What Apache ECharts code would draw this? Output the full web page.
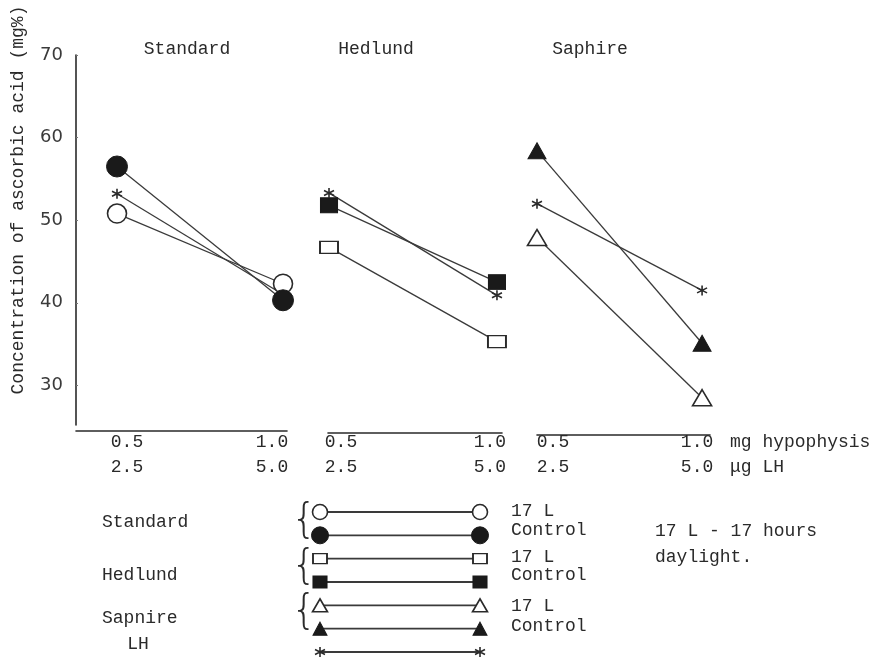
<!DOCTYPE html>
<html><head><meta charset="utf-8">
<script src="https://cdn.jsdelivr.net/npm/echarts@6/dist/echarts.min.js"></script>
<style>html,body{margin:0;padding:0;background:#fff}#c{width:881px;height:663px}</style>
</head><body><div id="c"></div>
<script>
// ---------- data ----------
const groups = ['Standard', 'Hedlund', 'Saphire'];
const doseX = [0.5, 1.0];
const doseHypophysis = ['0.5', '1.0'];
const doseLH = ['2.5', '5.0'];
const yTicks = [30, 40, 50, 60, 70];
// values at [0.5 / 2.5, 1.0 / 5.0]
const std17L = [50.8, 42.3];
const stdControl = [56.5, 40.3];
const stdLH = [53.2, 41.0];
const hed17L = [46.7, 35.3];
const hedControl = [51.8, 42.5];
const hedLH = [53.3, 40.9];
const sap17L = [47.9, 28.5];
const sapControl = [58.4, 35.1];
const sapLH = [52.0, 41.5];
const legendRows = ['Standard 17 L', 'Standard Control', 'Hedlund 17 L', 'Hedlund Control', 'Saphire 17 L', 'Saphire Control', 'LH'];
const legendGroupNames = ['Standard', 'Hedlund', 'Sapnire', 'LH'];
const legendRowLabels = ['17 L', 'Control'];
const yAxisTitle = 'Concentration of ascorbic acid (mg%)';
const unitHypophysis = 'mg hypophysis';
const unitLH = 'μg LH';
const noteLines = ['17 L - 17 hours', 'daylight.'];

// ---------- styles ----------
const INK = '#2a2a2a';
const DARK = '#1a1a1a';
const MONO = '"Liberation Mono", "DejaVu Sans Mono", monospace';
const SANS = '"DejaVu Sans", sans-serif';
const STAR = 'path://M5,0L5,10M0.7,2.5L9.3,7.5M0.7,7.5L9.3,2.5';
function symSet(k) {
  const s = v => Array.isArray(v) ? v.map(a => Math.round(a * k)) : Math.round(v * k);
  return {
    openCircle: { symbol: 'circle', symbolSize: s(19), itemStyle: { color: '#fff', borderColor: INK, borderWidth: 1.6 } },
    filledCircle: { symbol: 'circle', symbolSize: s(21), itemStyle: { color: DARK, borderColor: DARK, borderWidth: 1 } },
    openSquare: { symbol: 'rect', symbolSize: s([18, 12]), itemStyle: { color: '#fff', borderColor: INK, borderWidth: 1.6 } },
    filledSquare: { symbol: 'rect', symbolSize: s([17, 15]), itemStyle: { color: DARK, borderColor: DARK, borderWidth: 1 } },
    openTriangle: { symbol: 'triangle', symbolSize: s([19, 16]), itemStyle: { color: '#fff', borderColor: INK, borderWidth: 1.6 } },
    filledTriangle: { symbol: 'triangle', symbolSize: s([18, 16]), itemStyle: { color: DARK, borderColor: DARK, borderWidth: 1 } },
    star: { symbol: STAR, symbolSize: s(10), itemStyle: { color: 'none', borderColor: INK, borderWidth: 1.6 } }
  };
}
const sym = symSet(1);
const lsym = symSet(0.8);

function mk(name, gi, data, s, lw) {
  const o = {
    type: 'line', name: name, xAxisIndex: gi, yAxisIndex: gi, data: data,
    lineStyle: { color: '#3a3a3a', width: lw || 1.3 }, clip: false, silent: true, animation: false,
    showSymbol: true
  };
  return Object.assign(o, JSON.parse(JSON.stringify(s)));
}
function pts(vals) { return doseX.map((x, i) => [x, vals[i]]); }

// panel layout (pixels)
const panels = [
  { left: 76, width: 211, min: 0.3765, max: 1.012, offset: 6, margin: -1.5, padL: 20, padR: 22 },
  { left: 328, width: 174, min: 0.497, max: 1.015, offset: 8, margin: -3.5, padL: 24, padR: 14 },
  { left: 537, width: 173, min: 0.5, max: 1.024, offset: 10, margin: -5.5, padL: 32, padR: 10 }
];
const gridTop = 55, gridH = 370;

const grids = panels.map(p => ({ left: p.left, top: gridTop, width: p.width, height: gridH }));
grids.push({ left: 320, top: 512, width: 160, height: 140 });

const xAxes = panels.map((p, gi) => ({
  type: 'value', gridIndex: gi, min: p.min, max: p.max, offset: p.offset,
  splitLine: { show: false }, axisTick: { show: false },
  axisLine: { show: true, lineStyle: { color: INK, width: 1.6 } },
  axisLabel: {
    customValues: doseX, margin: p.margin, color: INK,
    formatter: v => {
      const i = doseX.indexOf(v);
      const k = i === 0 ? 'l' : 'r';
      return '{' + k + '|' + doseHypophysis[i] + '}\n{' + k + '|' + doseLH[i] + '}';
    },
    rich: {
      l: { fontFamily: MONO, fontSize: 18, color: INK, lineHeight: 25, padding: [0, 0, 0, p.padL] },
      r: { fontFamily: MONO, fontSize: 18, color: INK, lineHeight: 25, padding: [0, p.padR, 0, 0] }
    }
  }
}));
xAxes.push({ type: 'value', gridIndex: 3, min: 0, max: 1, show: false });

const yAxes = panels.map((p, gi) => ({
  type: 'value', gridIndex: gi, min: 25.2, max: 70, show: gi === 0,
  splitLine: { show: false },
  axisLine: { show: gi === 0, lineStyle: { color: INK, width: 1.6 } },
  axisTick: { show: true, inside: true, length: 2, customValues: yTicks, lineStyle: { color: '#777' } },
  axisLabel: { customValues: yTicks, fontFamily: SANS, fontSize: 18, color: '#3a3a3a', margin: 13, padding: [0, 0, 8, 0] }
}));
yAxes.push({ type: 'category', gridIndex: 3, data: legendRows, inverse: true, boundaryGap: false, show: false });

const series = [
  mk('Standard LH', 0, pts(stdLH), sym.star),
  mk('Standard 17 L', 0, pts(std17L), sym.openCircle),
  mk('Standard Control', 0, pts(stdControl), sym.filledCircle),
  mk('Hedlund 17 L', 1, pts(hed17L), sym.openSquare),
  mk('Hedlund Control', 1, pts(hedControl), sym.filledSquare),
  mk('Hedlund LH', 1, pts(hedLH), sym.star),
  mk('Saphire LH', 2, pts(sapLH), sym.star),
  mk('Saphire 17 L', 2, pts(sap17L), sym.openTriangle),
  mk('Saphire Control', 2, pts(sapControl), sym.filledTriangle)
];
const legendSyms = [lsym.openCircle, lsym.filledCircle, lsym.openSquare, lsym.filledSquare, lsym.openTriangle, lsym.filledTriangle, sym.star];
legendRows.forEach((r, i) => {
  series.push(mk('legend ' + r, 3, [[0, r], [1, r]], legendSyms[i], 1.8));
});

// ---------- text elements ----------
const txt = (text, x, y, extra) => ({
  type: 'text', x: x, y: y, silent: true,
  style: Object.assign({ text: text, fontFamily: MONO, fontSize: 18, fill: INK, verticalAlign: 'middle', align: 'left' }, extra || {})
});
const brace = { fontFamily: SANS, fontSize: 40, fontWeight: 'lighter', align: 'center' };
const graphic = [
  txt(yAxisTitle, 18, 200, { align: 'center' }),
  txt(unitHypophysis, 730, 442),
  txt(unitLH, 730, 467),
  txt(legendGroupNames[0], 102, 522),
  txt(legendGroupNames[1], 102, 575),
  txt(legendGroupNames[2], 102, 618),
  txt(legendGroupNames[3], 138, 644, { align: 'center' }),
  txt('{', 304, 522, brace),
  txt('{', 304, 568, brace),
  txt('{', 304, 613, brace),
  txt(legendRowLabels[0], 511, 511),
  txt(legendRowLabels[1], 511, 530),
  txt(legendRowLabels[0], 511, 557),
  txt(legendRowLabels[1], 511, 575),
  txt(legendRowLabels[0], 511, 606),
  txt(legendRowLabels[1], 511, 626),
  txt(noteLines[0], 655, 531),
  txt(noteLines[1], 655, 557)
];
graphic[0].rotation = Math.PI / 2;

const titleCenters = [182, 371, 585];
const chart = echarts.init(document.getElementById('c'), null, { renderer: 'canvas' });
chart.setOption({
  animation: false,
  backgroundColor: '#fff',
  title: groups.map((g, i) => ({
    text: g, left: titleCenters[i], top: 35, textAlign: 'center',
    textStyle: { fontFamily: MONO, fontSize: 18, fontWeight: 'normal', color: INK }
  })),
  grid: grids,
  xAxis: xAxes,
  yAxis: yAxes,
  series: series,
  graphic: graphic
});
</script>
</body></html>
